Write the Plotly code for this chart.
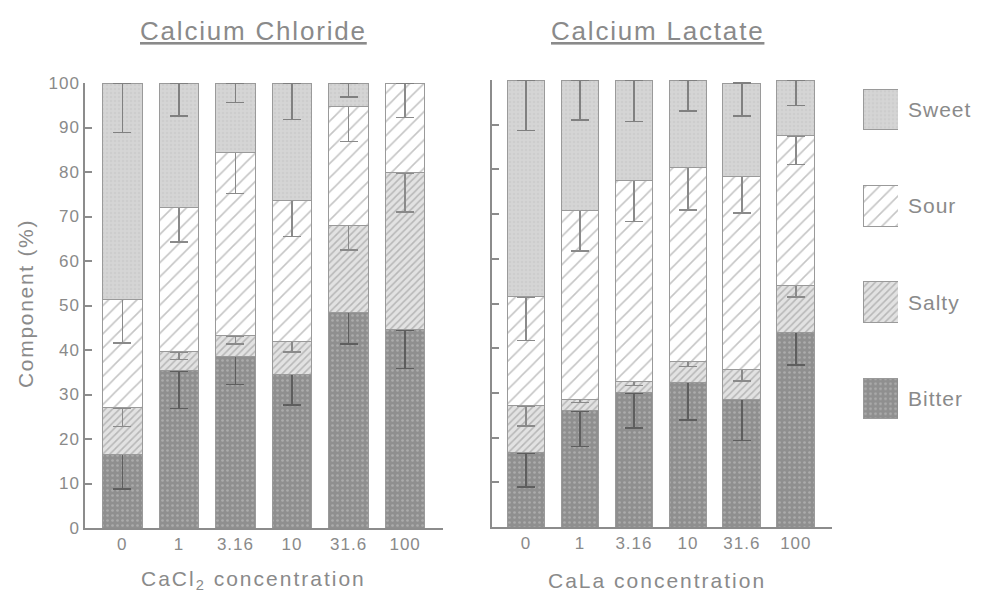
import plotly.graph_objects as go

concentrations = ["0", "1", "3.16", "10", "31.6", "100"]
tastes = ["Sweet", "Sour", "Salty", "Bitter"]
y_ticks = [0, 10, 20, 30, 40, 50, 60, 70, 80, 90, 100]

# Calcium Chloride segment values (%) and lower error lengths
cacl_bitter = [16.5, 35.3, 38.5, 34.6, 48.5, 44.5]
cacl_salty = [10.5, 4.3, 4.7, 7.3, 19.5, 35.3]
cacl_sour = [24.3, 32.4, 41.2, 31.7, 26.7, 20.2]
cacl_sweet = [48.7, 28.0, 15.6, 26.4, 5.3, 0.0]
cacl_bitter_err = [7.7, 8.4, 6.2, 7.0, 7.2, 8.6]
cacl_salty_err = [4.2, 1.7, 1.9, 2.3, 5.5, 8.8]
cacl_sour_err = [9.7, 7.7, 9.2, 8.1, 7.9, 7.8]
cacl_sweet_err = [11.1, 7.4, 4.4, 8.2, 3.2, 0.0]

# Calcium Lactate segment values (%) and lower error lengths
cala_bitter = [16.6, 26.0, 30.0, 32.4, 28.6, 43.6]
cala_salty = [10.5, 2.6, 2.5, 4.7, 6.7, 10.4]
cala_sour = [24.4, 42.2, 45.0, 43.3, 43.1, 33.5]
cala_sweet = [48.5, 29.2, 22.5, 19.6, 20.9, 12.5]
cala_bitter_err = [7.6, 8.0, 7.9, 8.5, 9.3, 7.4]
cala_salty_err = [4.5, 0.8, 0.8, 1.2, 2.6, 2.5]
cala_sour_err = [9.8, 9.1, 9.2, 9.5, 8.2, 6.4]
cala_sweet_err = [11.3, 8.9, 9.3, 6.9, 7.3, 5.7]

legend_values = [1, 1, 1, 1]

GRAY = "#8c8c8c"
TXT = "#8a8a8a"
FONT = "Liberation Sans, Arial, sans-serif"


def spaced(text, ls):
    return '<span style="letter-spacing:%.1fpx">%s</span>' % (ls, text)


styles = {
    "Sweet": dict(bgcolor="#d5d5d5", fgcolor="#c4c4c4", shape=".", size=4, solidity=0.3),
    "Sour": dict(bgcolor="#ffffff", fgcolor="#8c8c8c", shape="/", size=10, solidity=0.16),
    "Salty": dict(bgcolor="#e2e2e2", fgcolor="#8c8c8c", shape="/", size=5, solidity=0.32),
    "Bitter": dict(bgcolor="#8f8f8f", fgcolor="#c8c8c8", shape=".", size=5, solidity=0.22),
}
err_colors = {"Sweet": "#808080", "Sour": "#8a8a8a", "Salty": "#8a8a8a", "Bitter": "#5e5e5e"}

fig = go.Figure()

panels = [
    ("x", "y", {"Bitter": (cacl_bitter, cacl_bitter_err), "Salty": (cacl_salty, cacl_salty_err),
                "Sour": (cacl_sour, cacl_sour_err), "Sweet": (cacl_sweet, cacl_sweet_err)}),
    ("x2", "y2", {"Bitter": (cala_bitter, cala_bitter_err), "Salty": (cala_salty, cala_salty_err),
                  "Sour": (cala_sour, cala_sour_err), "Sweet": (cala_sweet, cala_sweet_err)}),
]
for xa, ya, data in panels:
    for taste in ["Bitter", "Salty", "Sour", "Sweet"]:
        vals, errs = data[taste]
        fig.add_trace(go.Bar(
            x=concentrations, y=vals, xaxis=xa, yaxis=ya, name=taste, showlegend=False,
            marker=dict(pattern=styles[taste], line=dict(color="#9a9a9a", width=1)),
            error_y=dict(type="data", symmetric=False, array=[0] * len(errs), arrayminus=errs,
                         color=err_colors[taste], thickness=1.5, width=9),
            hoverinfo="skip",
        ))

# legend drawn as a small subplot
for taste, v in zip(tastes, legend_values):
    fig.add_trace(go.Bar(
        y=[taste], x=[v], orientation="h", xaxis="x3", yaxis="y3", showlegend=False,
        marker=dict(pattern=styles[taste], line=dict(color="#9a9a9a", width=1)),
        hoverinfo="skip", width=0.42,
    ))

axis_common = dict(showline=True, linecolor=GRAY, linewidth=1.5, showgrid=False, zeroline=False,
                   automargin=False, tickfont=dict(family=FONT, size=17, color=TXT))

# page body has an 8px margin; figure is sized so it fills the window exactly
OFF = 8
W, H = 984 - OFF, 596 - OFF


def px_x(p):
    return (p - OFF) / W


def px_y(p):
    return 1 - (p - OFF) / H


xtick_text = [spaced(c, 1) for c in concentrations]
ytick_text = [spaced(str(v), 1) for v in y_ticks]

fig.update_layout(
    width=W, height=H, margin=dict(l=0, r=0, t=0, b=0, autoexpand=False),
    paper_bgcolor="white", plot_bgcolor="white",
    barmode="stack", bargap=0.3,
    font=dict(family=FONT, color=TXT),
    xaxis=dict(domain=[px_x(85), px_x(443)], anchor="y", range=[-0.66, 5.67], ticks="",
               tickvals=concentrations, ticktext=xtick_text, **axis_common),
    yaxis=dict(domain=[px_y(528), px_y(83)], anchor="x", range=[0, 100], tickvals=y_ticks,
               ticktext=ytick_text, ticks="inside", ticklen=7, tickcolor=GRAY, tickwidth=1.5,
               **axis_common),
    xaxis2=dict(domain=[px_x(492), px_x(832)], anchor="y2", range=[-0.63, 5.67], ticks="",
                tickvals=concentrations, ticktext=xtick_text, **axis_common),
    yaxis2=dict(domain=[px_y(527), px_y(80)], anchor="x2", range=[0, 100], tickvals=y_ticks,
                ticks="inside", ticklen=7, tickcolor=GRAY, tickwidth=1.5, showticklabels=False,
                **axis_common),
    xaxis3=dict(domain=[px_x(863), px_x(898)], anchor="y3", range=[0, 1], visible=False,
                fixedrange=True, automargin=False),
    yaxis3=dict(domain=[px_y(446.7), px_y(61.3)], anchor="x3", side="right", range=[3.5, -0.5],
                categoryorder="array", categoryarray=tastes, tickvals=tastes,
                ticktext=[spaced(t, 1.0) for t in tastes], showline=False, showgrid=False,
                automargin=False, ticks="", ticklabelstandoff=9,
                tickfont=dict(family=FONT, size=21, color=TXT)),
    annotations=[
        dict(text=spaced("Calcium Chloride", 1.8), x=px_x(253), y=px_y(31), xref="paper", yref="paper",
             xanchor="center", yanchor="middle", showarrow=False,
             font=dict(family=FONT, size=26, color=TXT, lineposition="under")),
        dict(text=spaced("Calcium Lactate", 1.8), x=px_x(657), y=px_y(31), xref="paper", yref="paper",
             xanchor="center", yanchor="middle", showarrow=False,
             font=dict(family=FONT, size=26, color=TXT, lineposition="under")),
        dict(text=spaced("Component (%)", 1.7), x=px_x(25), y=px_y(304), xref="paper", yref="paper",
             xanchor="center", yanchor="middle", textangle=-90, showarrow=False,
             font=dict(family=FONT, size=21, color=TXT)),
        dict(text=spaced("CaCl<sub>2</sub> concentration", 2), x=px_x(254), y=px_y(580),
             xref="paper", yref="paper", xanchor="center", yanchor="middle", showarrow=False,
             font=dict(family=FONT, size=21, color=TXT)),
        dict(text=spaced("CaLa concentration", 2), x=px_x(657), y=px_y(580), xref="paper", yref="paper",
             xanchor="center", yanchor="middle", showarrow=False,
             font=dict(family=FONT, size=21, color=TXT)),
    ],
)

fig.write_html("out.html")
